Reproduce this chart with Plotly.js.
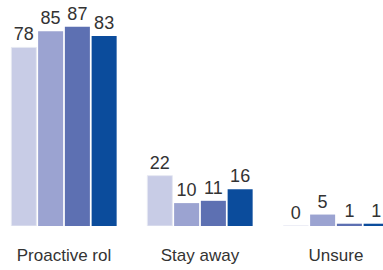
<!DOCTYPE html>
<html>
<head>
<meta charset="utf-8">
<script src="https://cdn.plot.ly/plotly-3.0.1.min.js"></script>
<style>html,body{margin:0;padding:0;background:#fff;}#chart{width:383px;height:270px;}</style>
</head>
<body>
<div id="chart"></div>
<script>
const categories = ["Proactive rol", "Stay away", "Unsure"];
const series1 = [78, 22, 0];
const series2 = [85, 10, 5];
const series3 = [87, 11, 1];
const series4 = [83, 16, 1];
const seriesNames = ["Series 1", "Series 2", "Series 3", "Series 4"];
const colors = ["#c8cce6", "#9ba3d1", "#5d70b2", "#0b4c9c"];

const font = "'Liberation Sans', Arial, sans-serif";
const allSeries = [series1, series2, series3, series4];
const traces = allSeries.map((vals, i) => ({
  type: "bar",
  name: seriesNames[i],
  x: categories,
  y: vals,
  text: vals.map(String),
  textposition: "outside",
  textfont: {family: font, size: 18, color: "#333333"},
  marker: {color: colors[i], line: {width: i === 0 ? 1 : 0, color: i === 0 ? "#e6e8f2" : colors[i]}},
  cliponaxis: false,
  hoverinfo: "none"
}));

const layout = {
  width: 383,
  height: 270,
  margin: {l: 0, r: 0, t: 0, b: 44, pad: 0},
  paper_bgcolor: "#ffffff",
  plot_bgcolor: "#ffffff",
  showlegend: false,
  barmode: "group",
  bargap: 0.213,
  bargroupgap: 0.065,
  font: {family: font, size: 17, color: "#333333"},
  xaxis: {
    range: [-0.4706, 2.3456],
    showgrid: false,
    zeroline: false,
    showline: false,
    ticks: "",
    ticklabelstandoff: 17,
    tickfont: {family: font, size: 17, color: "#333333"},
    fixedrange: true
  },
  yaxis: {
    range: [0, 98.7],
    showgrid: false,
    zeroline: false,
    showline: false,
    showticklabels: false,
    ticks: "",
    fixedrange: true
  }
};

Plotly.newPlot("chart", traces, layout, {displayModeBar: false, staticPlot: true});
</script>
</body>
</html>
